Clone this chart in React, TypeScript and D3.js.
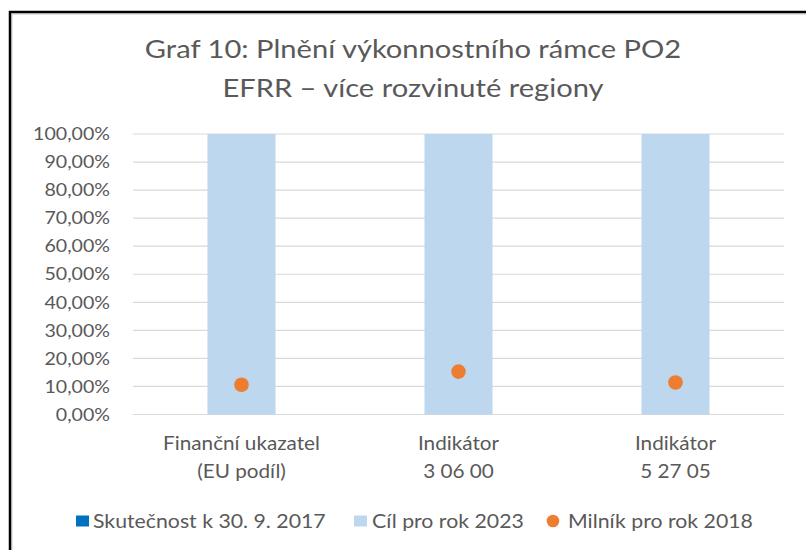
import React from "react";
import * as d3 from "d3";

const categories: string[][] = [
  ["Finanční ukazatel", "(EU podíl)"],
  ["Indikátor", "3 06 00"],
  ["Indikátor", "5 27 05"],
];
const actual2017: number[] = [0, 0, 0];
const target2023: number[] = [1, 1, 1];
const milestone2018: number[] = [0.106, 0.153, 0.114];
const yTicks: number[] = [0, 0.1, 0.2, 0.3, 0.4, 0.5, 0.6, 0.7, 0.8, 0.9, 1.0];
const titleLines: string[] = [
  "Graf 10: Plnění výkonnostního rámce PO2",
  "EFRR – více rozvinuté regiony",
];
const legendLabels: string[] = [
  "Skutečnost k 30. 9. 2017",
  "Cíl pro rok 2023",
  "Milník pro rok 2018",
];

const W = 806;
const H = 550;
const FONT = "Lato, 'Open Sans', sans-serif";
const TXT = "#595959";
const SX = 1.12;

const C_ACTUAL = "#0070C0";
const C_TARGET = "#BDD7EE";
const C_MILE = "#ED7D31";

function SText(props: {
  x: number;
  y: number;
  size: number;
  anchor?: "start" | "middle" | "end";
  children: React.ReactNode;
  fill?: string;
}) {
  const { x, y, size, anchor = "start", children, fill = TXT } = props;
  return (
    <text
      transform={`translate(${x},${y}) scale(${SX},1)`}
      fontFamily={FONT}
      fontSize={size}
      textAnchor={anchor}
      fill={fill}
    >
      {children}
    </text>
  );
}

export default function App() {
  const left = 133;
  const right = 784;
  const top = 134;
  const bottom = 414.5;

  const x = d3
    .scaleBand<number>()
    .domain(categories.map((_, i) => i))
    .range([left, right])
    .paddingInner(0)
    .paddingOuter(0);
  const y = d3.scaleLinear().domain([0, 1]).range([bottom, top]);
  const barW = x.bandwidth() / 3.19;
  const fmt = (v: number) => d3.format(".2f")(v * 100).replace(".", ",") + "%";

  const legendY = 521;

  return (
    <svg
      width={W}
      height={H}
      style={{ position: "absolute", left: 0, top: 0, background: "#fff" }}
    >
      <rect x={0} y={0} width={W} height={H} fill="#fff" />
      {/* frame */}
      <rect x={10} y={12} width={W + 20} height={H + 20} fill="none" stroke="#000" strokeWidth={2.5} />
      <rect x={11.8} y={13.8} width={W + 20} height={H + 20} fill="none" stroke="#a6a6a6" strokeWidth={1} />

      {/* title */}
      {titleLines.map((t, i) => (
        <SText key={t} x={413} y={58 + i * 39} size={26} anchor="middle">
          {t}
        </SText>
      ))}

      {/* gridlines */}
      {yTicks.map((t) => (
        <line
          key={t}
          x1={left}
          x2={right}
          y1={y(t)}
          y2={y(t)}
          stroke="#d9d9d9"
          strokeWidth={1.2}
        />
      ))}

      {/* y labels */}
      {yTicks.map((t) => (
        <SText key={"l" + t} x={110} y={y(t) + 6.2} size={17.5} anchor="end">
          {fmt(t)}
        </SText>
      ))}

      {/* bars target */}
      {target2023.map((v, i) => (
        <rect
          key={"t" + i}
          x={(x(i) as number) + x.bandwidth() / 2 - barW / 2}
          y={y(v)}
          width={barW}
          height={y(0) - y(v)}
          fill={C_TARGET}
        />
      ))}
      {/* bars actual */}
      {actual2017.map((v, i) => (
        <rect
          key={"a" + i}
          x={(x(i) as number) + x.bandwidth() / 2 - barW / 2}
          y={y(v)}
          width={barW}
          height={y(0) - y(v)}
          fill={C_ACTUAL}
        />
      ))}
      {/* milestone dots */}
      {milestone2018.map((v, i) => (
        <circle
          key={"m" + i}
          cx={(x(i) as number) + x.bandwidth() / 2}
          cy={y(v)}
          r={7.3}
          fill={C_MILE}
        />
      ))}

      {/* x labels */}
      {categories.map((lines, i) =>
        lines.map((l, j) => (
          <SText
            key={"x" + i + j}
            x={(x(i) as number) + x.bandwidth() / 2}
            y={450 + j * 28}
            size={18.5}
            anchor="middle"
          >
            {l}
          </SText>
        ))
      )}

      {/* legend */}
      <rect x={76} y={legendY - 5.5} width={13} height={11} fill={C_ACTUAL} />
      <SText x={93} y={legendY + 6.5} size={19}>
        {legendLabels[0]}
      </SText>
      <rect x={354} y={legendY - 5.5} width={13} height={11} fill={C_TARGET} />
      <SText x={372} y={legendY + 6.5} size={19}>
        {legendLabels[1]}
      </SText>
      <circle cx={553} cy={legendY} r={6.3} fill={C_MILE} />
      <SText x={568} y={legendY + 6.5} size={19}>
        {legendLabels[2]}
      </SText>
    </svg>
  );
}
